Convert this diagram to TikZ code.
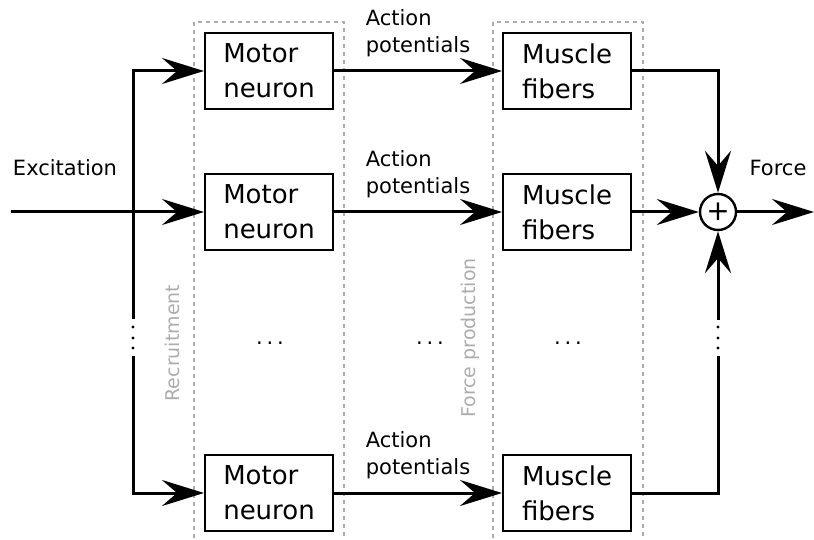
\documentclass[tikz,border=0pt]{standalone}
\usepackage{fontspec}
\setmainfont{DejaVu Sans}
\usetikzlibrary{arrows.meta}

\begin{document}
\begin{tikzpicture}[x=1pt,y=-1pt,
    block/.style={draw,line width=2pt,minimum width=128pt,minimum height=76pt,
      align=left,font=\fontsize{26}{35}\selectfont},
    wire/.style={line width=3pt},
    flow/.style={wire,-{Stealth[length=42pt,width=26pt,inset=15pt]}},
    lbl/.style={font=\fontsize{21}{27}\selectfont,align=left},
    stage/.style={draw=gray!65,line width=1.8pt,dash pattern=on 4pt off 4pt},
    stagelbl/.style={rotate=90,text=gray!65,font=\fontsize{19}{22}\selectfont}]
  \useasboundingbox (0,0) rectangle (814,540);

  % recruitment and force production stages
  \draw[stage] (194,22) rectangle (344,548);
  \draw[stage] (493,22) rectangle (643,548);
  \node[stagelbl] (rec) at (172,343) {Recruitment};
  \node[stagelbl] (fp) at (470,338) {Force production};

  \foreach \i/\y in {1/71,2/212,3/493}{
    \node[block] (mn\i) at (269,\y) {Motor\\neuron};
    \node[block] (mf\i) at (567,\y) {Muscle\\fibers};
    \draw[flow] (mn\i) -- node[lbl,above=9pt] {Action\\potentials} (mf\i);
  }
  \def\gapdots{.\kern3.8pt.\kern3.8pt.}
  \node[lbl] (d1) at (270,343) {\gapdots};
  \node[lbl] (d2) at (430,343) {\gapdots};
  \node[lbl] (d3) at (568,343) {\gapdots};

  \node[circle,draw,line width=2.4pt,minimum size=36pt,inner sep=0pt,
    font=\fontsize{28}{28}\selectfont] (sum) at (718,212) {+};

  \coordinate (in) at (11,212);
  \coordinate (out) at (814,212);
  \coordinate (busa) at (133,319);
  \coordinate (busb) at (133,356);
  \coordinate (suma) at (718,320);
  \coordinate (sumb) at (718,356);

  % input and distribution bus
  \node[lbl] (exc) at (65,168) {Excitation};
  \draw[flow] (in) -- (mn2);
  \draw[flow] (busa) |- (mn1);
  \draw[flow] (busb) |- (mn3);
  \foreach \y in {327,338,348} \fill (133,\y) circle (1.6pt);

  % summation
  \draw[flow] (mf1) -| (sum);
  \draw[flow] (mf2) -- (sum);
  \draw[wire] (mf3) -| (sumb);
  \draw[flow] (suma) -- (sum);
  \foreach \y in {327,338,348} \fill (718,\y) circle (1.6pt);
  \draw[flow] (sum) -- (out);
  \node[lbl] (frc) at (778,168) {Force};
\end{tikzpicture}
\end{document}
